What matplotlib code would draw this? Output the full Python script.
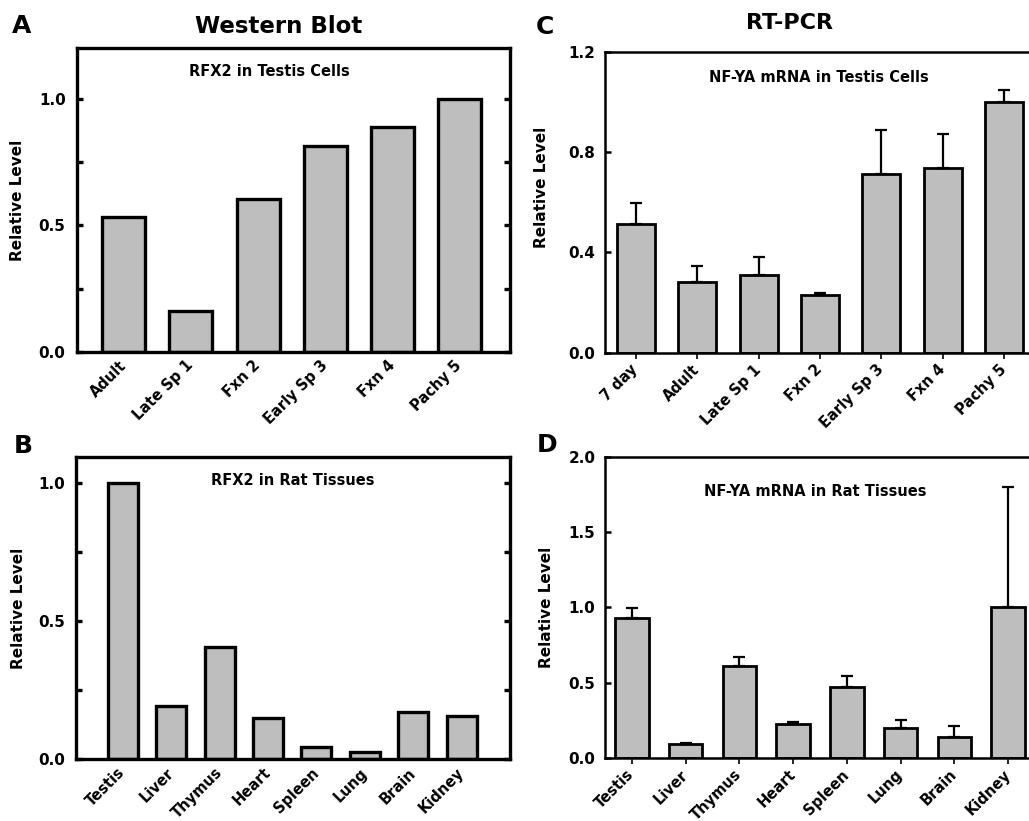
import matplotlib
matplotlib.use("Agg")
import matplotlib.pyplot as plt
import numpy as np

# ---------------- data ----------------
a_categories = ["Adult", "Late Sp 1", "Fxn 2", "Early Sp 3", "Fxn 4", "Pachy 5"]
a_values = [0.533, 0.160, 0.605, 0.815, 0.889, 1.0]

b_categories = ["Testis", "Liver", "Thymus", "Heart", "Spleen", "Lung", "Brain", "Kidney"]
b_values = [1.0, 0.193, 0.406, 0.149, 0.043, 0.028, 0.170, 0.157]

c_categories = ["7 day", "Adult", "Late Sp 1", "Fxn 2", "Early Sp 3", "Fxn 4", "Pachy 5"]
c_values = [0.513, 0.283, 0.309, 0.230, 0.712, 0.735, 1.0]
c_errors = [0.085, 0.064, 0.071, 0.007, 0.176, 0.137, 0.047]

d_categories = ["Testis", "Liver", "Thymus", "Heart", "Spleen", "Lung", "Brain", "Kidney"]
d_values = [0.927, 0.089, 0.610, 0.222, 0.468, 0.200, 0.136, 1.0]
d_errors = [0.071, 0.006, 0.062, 0.018, 0.076, 0.051, 0.077, 0.80]

# ---------------- figure ----------------
W, H = 1029, 821
fig = plt.figure(figsize=(W / 100, H / 100), dpi=100)
plt.rcParams['font.family'] = ['DejaVu Sans']
plt.rcParams['font.weight'] = 'bold'

BAR = '#bebebe'

def px_axes(l, t, r, b):
    return fig.add_axes([l / W, 1 - b / H, (r - l) / W, (b - t) / H])

def ftext(x, y, s, **kw):
    fig.text(x / W, 1 - y / H, s, **kw)

def style_left(ax, ylim, major, minor, lw):
    ax.set_ylim(*ylim)
    ax.set_yticks(major)
    ax.set_yticks(minor, minor=True)
    ax.set_yticklabels([f"{v:.1f}" for v in major], fontsize=11, fontweight='bold')
    ax.tick_params(axis='y', which='both', direction='in', length=4, width=lw,
                   left=True, right=True, pad=8)
    for s in ax.spines.values():
        s.set_linewidth(lw)

def xlabels(ax, cats, ticks_visible):
    x = np.arange(len(cats))
    ax.set_xticks(x)
    ax.set_xticklabels(cats, rotation=45, ha='right', va='center',
                       rotation_mode='anchor', fontsize=10.5, fontweight='bold')
    if ticks_visible:
        ax.tick_params(axis='x', direction='out', length=4, width=1.2, pad=6.5)
    else:
        ax.tick_params(axis='x', length=0, pad=8)

# Panel A
axA = px_axes(76.7, 48, 510, 352)
xa = np.arange(len(a_categories))
axA.bar(xa, a_values, width=0.64, color=BAR, edgecolor='black', linewidth=2.4)
axA.set_xlim(-0.7, len(a_categories) - 0.25)
style_left(axA, (0, 1.2), [0.0, 0.5, 1.0], [0.25, 0.75], 2.4)
xlabels(axA, a_categories, False)

# Panel B
axB = px_axes(76, 456.7, 510, 759.3)
xb = np.arange(len(b_categories))
axB.bar(xb, b_values, width=0.62, color=BAR, edgecolor='black', linewidth=2.4)
axB.set_xlim(-0.97, len(b_categories))
style_left(axB, (0, 1.096), [0.0, 0.5, 1.0], [0.25, 0.75], 2.4)
xlabels(axB, b_categories, False)

# Panel C
axC = px_axes(605, 51.7, 1035, 352.7)
xc = np.arange(len(c_categories))
axC.bar(xc, c_values, width=0.62, color=BAR, edgecolor='black', linewidth=2.0,
        yerr=[np.zeros(len(c_errors)), c_errors],
        error_kw=dict(ecolor='black', elinewidth=1.6, capsize=4, capthick=1.6))
axC.set_xlim(-0.5, len(c_categories) - 0.5)
style_left(axC, (0, 1.2), [0.0, 0.4, 0.8, 1.2], [], 1.8)
axC.tick_params(axis='y', pad=7)
xlabels(axC, c_categories, True)

# Panel D
axD = px_axes(605, 457, 1035, 757.7)
xd = np.arange(len(d_categories))
axD.bar(xd, d_values, width=0.62, color=BAR, edgecolor='black', linewidth=2.0,
        yerr=[np.zeros(len(d_errors)), d_errors],
        error_kw=dict(ecolor='black', elinewidth=1.6, capsize=4, capthick=1.6))
axD.set_xlim(-0.5, len(d_categories) - 0.5)
style_left(axD, (0, 2.0), [0.0, 0.5, 1.0, 1.5, 2.0], [], 1.8)
axD.tick_params(axis='y', pad=7)
xlabels(axD, d_categories, True)

# Texts
ftext(22, 33, "A", fontsize=18, fontweight='bold', ha='center', va='baseline')
ftext(545, 34, "C", fontsize=18, fontweight='bold', ha='center', va='baseline')
ftext(23, 453, "B", fontsize=18, fontweight='bold', ha='center', va='baseline')
ftext(547, 452, "D", fontsize=18, fontweight='bold', ha='center', va='baseline')

ftext(279, 33, "Western Blot", fontsize=16.5, fontweight='heavy', ha='center', va='baseline')
ftext(790, 29, "RT-PCR", fontsize=16, fontweight='heavy', ha='center', va='baseline')

ftext(269.5, 76, "RFX2 in Testis Cells", fontsize=10.5, fontweight='bold', ha='center', va='baseline')
ftext(818.5, 82, "NF-YA mRNA in Testis Cells", fontsize=10.5, fontweight='bold', ha='center', va='baseline')
ftext(292.5, 485, "RFX2 in Rat Tissues", fontsize=10.5, fontweight='bold', ha='center', va='baseline')
ftext(815.5, 495.7, "NF-YA mRNA in Rat Tissues", fontsize=10.5, fontweight='bold', ha='center', va='baseline')

ftext(18, 200, "Relative Level", fontsize=11, fontweight='bold', rotation=90, ha='center', va='center')
ftext(19, 608, "Relative Level", fontsize=11, fontweight='bold', rotation=90, ha='center', va='center')
ftext(541.7, 187, "Relative Level", fontsize=11, fontweight='bold', rotation=90, ha='center', va='center')
ftext(546.7, 607.5, "Relative Level", fontsize=11, fontweight='bold', rotation=90, ha='center', va='center')

fig.savefig("out.png", dpi=100)
